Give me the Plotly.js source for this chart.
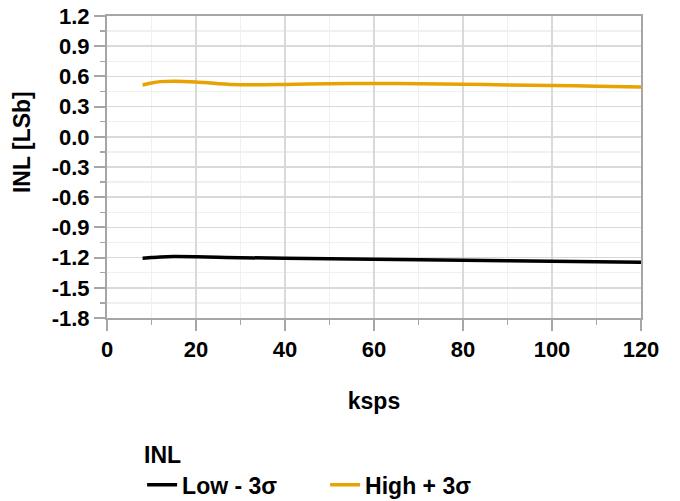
<!DOCTYPE html>
<html>
<head>
<meta charset="utf-8">
<script src="https://cdn.plot.ly/plotly-3.0.1.min.js"></script>
<style>html,body{margin:0;padding:0;background:#fff;}#chart{width:680px;height:501px;}</style>
</head>
<body>
<div id="chart"></div>
<script>
const ksps = [8, 10, 12, 15, 20, 25, 30, 40, 50, 60, 70, 80, 90, 100, 110, 120];
const lowMinus3s = [-1.207, -1.200, -1.194, -1.190, -1.192, -1.197, -1.201, -1.206, -1.211, -1.216, -1.221, -1.226, -1.231, -1.236, -1.241, -1.246];
const highPlus3s = [0.515, 0.535, 0.548, 0.553, 0.545, 0.528, 0.518, 0.520, 0.528, 0.530, 0.527, 0.522, 0.515, 0.510, 0.503, 0.495];
const seriesNames = ["Low - 3σ", "High + 3σ"];
const seriesColors = ["#000000", "#E8A202"];
const legendTitle = "INL";
const xTitle = "ksps";
const yTitle = "INL [LSb]";
const xTickVals = [0, 20, 40, 60, 80, 100, 120];
const xTickText = ["0", "20", "40", "60", "80", "100", "120"];
const yTickVals = [1.2, 0.9, 0.6, 0.3, 0.0, -0.3, -0.6, -0.9, -1.2, -1.5, -1.8];
const yTickText = ["1.2", "0.9", "0.6", "0.3", "0.0", "-0.3", "-0.6", "-0.9", "-1.2", "-1.5", "-1.8"];

const fam = "Liberation Sans, Arial, sans-serif";
const b = s => "<b>" + s + "</b>";
const traces = [
  {x: ksps, y: lowMinus3s, name: b(seriesNames[0]), mode: "lines", line: {color: seriesColors[0], width: 3.5, shape: "spline"}},
  {x: ksps, y: highPlus3s, name: b(seriesNames[1]), mode: "lines", line: {color: seriesColors[1], width: 3.5, shape: "spline"}}
];
const layout = {
  width: 680, height: 501,
  margin: {l: 107, r: 39, t: 16, b: 183, autoexpand: false},
  paper_bgcolor: "#fff", plot_bgcolor: "#fff",
  font: {family: fam, size: 22, color: "#000"},
  showlegend: true,
  xaxis: {
    range: [0, 120], tickvals: xTickVals, ticktext: xTickText.map(b),
    showline: true, linecolor: "#a6a6a6", linewidth: 2, mirror: true,
    gridcolor: "#d9d9d9", gridwidth: 1.5,
    ticks: "outside", ticklen: 11, tickcolor: "#a6a6a6", tickwidth: 2,
    minor: {dtick: 10, tick0: 0, showgrid: true, gridcolor: "#f0f0f0", gridwidth: 1.5, ticks: "outside", ticklen: 5, tickcolor: "#a6a6a6", tickwidth: 1.5},
    tickfont: {family: fam, size: 22, color: "#000", weight: 700},
    zeroline: false,
    title: {text: b(xTitle), font: {family: fam, size: 23, color: "#000"}, standoff: 31}
  },
  yaxis: {
    range: [-1.8, 1.2], tickvals: yTickVals, ticktext: yTickText.map(b),
    showline: true, linecolor: "#a6a6a6", linewidth: 2, mirror: true,
    gridcolor: "#d9d9d9", gridwidth: 1.5,
    ticks: "outside", ticklen: 11, tickcolor: "#a6a6a6", tickwidth: 2,
    minor: {dtick: 0.15, tick0: 0, showgrid: true, gridcolor: "#f0f0f0", gridwidth: 1.5, ticks: "outside", ticklen: 5, tickcolor: "#a6a6a6", tickwidth: 1.5},
    tickfont: {family: fam, size: 22, color: "#000", weight: 700},
    zeroline: false
  },
  annotations: [{
    text: b(yTitle), textangle: -90, showarrow: false,
    xref: "paper", yref: "paper", x: -0.159, y: 0.583, xanchor: "center", yanchor: "middle",
    font: {family: fam, size: 23, color: "#000"}
  }],
  legend: {
    orientation: "h", xref: "container", yref: "container",
    x: 0.209, xanchor: "left", y: 0.135, yanchor: "top",
    title: {text: b(legendTitle), side: "top", font: {family: fam, size: 23, color: "#000"}},
    font: {family: fam, size: 23, color: "#000"},
    entrywidth: 138, tracegroupgap: 0
  }
};
Plotly.newPlot("chart", traces, layout, {displayModeBar: false, staticPlot: true});
</script>
</body>
</html>
